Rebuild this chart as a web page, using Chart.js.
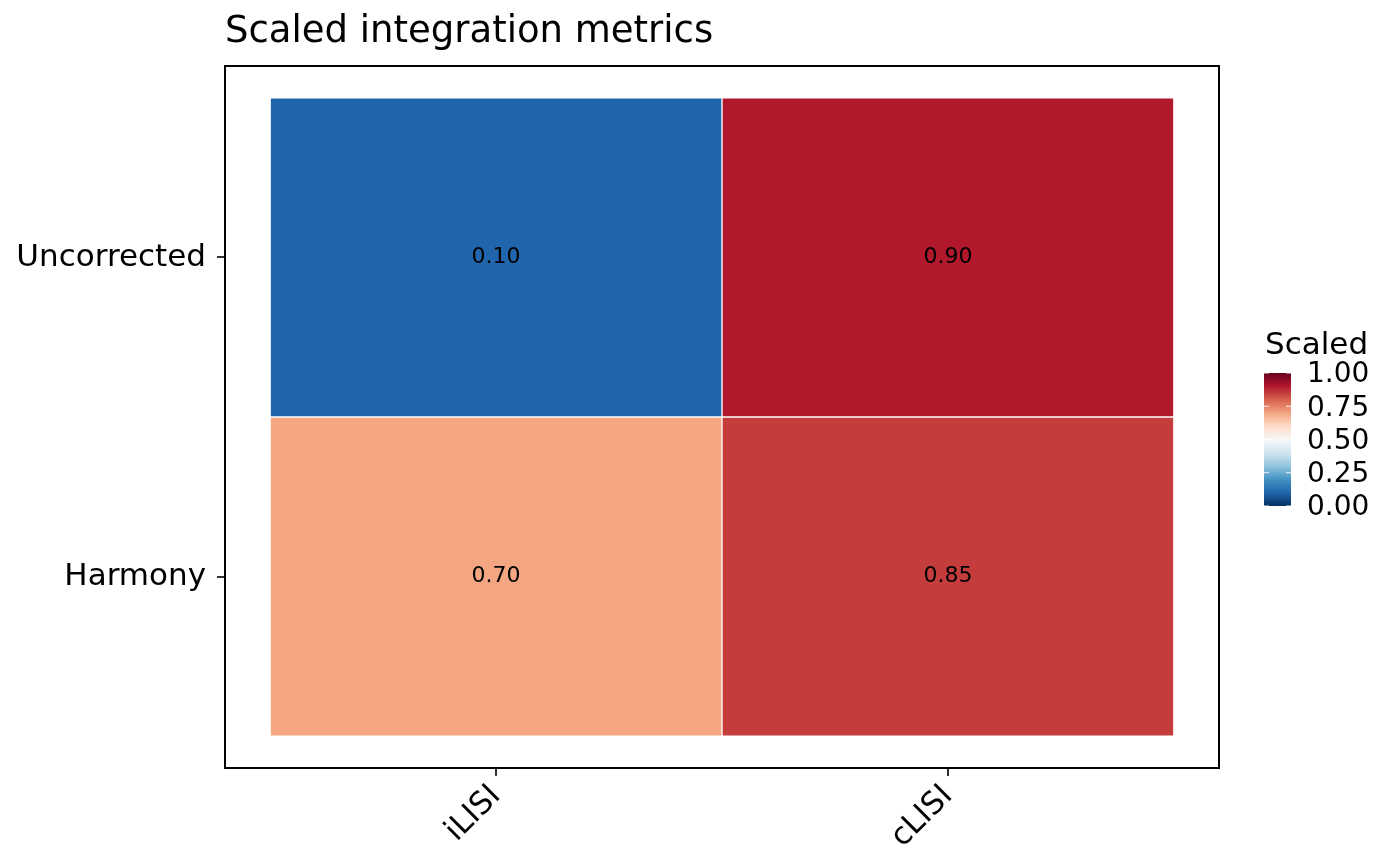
<!DOCTYPE html>
<html>
<head>
<meta charset="utf-8">
<style>
  html, body { margin: 0; padding: 0; background: #fff; }
  #wrap { width: 1400px; height: 866px; }
</style>
<script src="https://cdn.jsdelivr.net/npm/chart.js@4/dist/chart.umd.min.js"></script>
</head>
<body>
<div id="wrap"><canvas id="c" width="1400" height="866"></canvas></div>
<script>
// ---- data ----
const methods = ['Harmony', 'Uncorrected'];          // y positions 1, 2 (bottom to top)
const metrics = ['iLISI', 'cLISI'];                  // x positions 1, 2
const harmonyValues = [0.70, 0.85];
const uncorrectedValues = [0.10, 0.90];
const legendTicks = [0.00, 0.25, 0.50, 0.75, 1.00];
const chartTitle = 'Scaled integration metrics';
const legendTitle = 'Scaled';

// ---- colour scale (RdBu, reversed) ----
const palette = ['#053061','#2166AC','#4393C3','#92C5DE','#D1E5F0','#F7F7F7','#FDDBC7','#F4A582','#D6604D','#B2182B','#67001F'];
function hexToRgb(h) { h = h.replace('#',''); return [parseInt(h.substr(0,2),16), parseInt(h.substr(2,2),16), parseInt(h.substr(4,2),16)]; }
function colorFor(v) {
  const t = Math.max(0, Math.min(1, v)) * (palette.length - 1);
  const i = Math.min(Math.floor(t), palette.length - 2);
  const f = t - i;
  const a = hexToRgb(palette[i]), b = hexToRgb(palette[i+1]);
  const c = a.map((x, k) => Math.round(x + (b[k] - x) * f));
  return 'rgb(' + c.join(',') + ')';
}

const FONT = "'DejaVu Sans', sans-serif";

function rowDataset(label, values, yIdx) {
  return {
    label: label,
    data: values.map((v, i) => ({ x: i + 1, y: [yIdx - 0.5, yIdx + 0.5], v: v })),
    backgroundColor: values.map(colorFor),
    borderColor: '#ffffff',
    borderWidth: 1,
    borderSkipped: false,
    grouped: false,
    barPercentage: 1,
    categoryPercentage: 1
  };
}

const cellLabels = {
  id: 'cellLabels',
  afterDatasetsDraw(chart) {
    const ctx = chart.ctx;
    ctx.save();
    ctx.font = '22px ' + FONT;
    ctx.fillStyle = '#000';
    ctx.textAlign = 'center';
    ctx.textBaseline = 'middle';
    chart.data.datasets.forEach((ds, di) => {
      const meta = chart.getDatasetMeta(di);
      meta.data.forEach((el, i) => {
        const cy = (el.y + el.base) / 2;
        ctx.fillText(ds.data[i].v.toFixed(2), el.x, cy);
      });
    });
    ctx.restore();
  }
};

const panelAndLegend = {
  id: 'panelAndLegend',
  afterDraw(chart) {
    const ctx = chart.ctx;
    const a = chart.chartArea;
    ctx.save();
    // panel border
    ctx.strokeStyle = '#000';
    ctx.lineWidth = 2;
    ctx.strokeRect(a.left, a.top, a.right - a.left, a.bottom - a.top);
    // title
    ctx.fillStyle = '#000';
    ctx.font = '37px ' + FONT;
    ctx.textAlign = 'left';
    ctx.textBaseline = 'alphabetic';
    ctx.fillText(chartTitle, a.left, 42);
    // legend
    const lx = 1264, lw = 27, ltop = 373, lbot = 506;
    ctx.font = '31px ' + FONT;
    ctx.fillText(legendTitle, 1265, 354);
    const g = ctx.createLinearGradient(0, lbot, 0, ltop);
    for (let k = 0; k <= 50; k++) g.addColorStop(k / 50, colorFor(k / 50));
    ctx.fillStyle = g;
    ctx.fillRect(lx, ltop, lw, lbot - ltop);
    ctx.font = '28px ' + FONT;
    ctx.textBaseline = 'middle';
    legendTicks.forEach(t => {
      const y = lbot - t * (lbot - ltop);
      ctx.strokeStyle = 'rgba(255,255,255,0.9)';
      ctx.lineWidth = 1;
      ctx.beginPath();
      ctx.moveTo(lx, y); ctx.lineTo(lx + 5, y);
      ctx.moveTo(lx + lw - 5, y); ctx.lineTo(lx + lw, y);
      ctx.stroke();
      ctx.fillStyle = '#000';
      ctx.fillText(t.toFixed(2), 1307, y + 2);
    });
    ctx.restore();
  }
};

new Chart(document.getElementById('c'), {
  type: 'bar',
  data: {
    datasets: [
      rowDataset('Uncorrected', uncorrectedValues, 2),
      rowDataset('Harmony', harmonyValues, 1)
    ]
  },
  options: {
    responsive: false,
    animation: false,
    devicePixelRatio: 1,
    layout: { padding: { top: 66, right: 181, bottom: 0, left: 0 } },
    plugins: { legend: { display: false }, tooltip: { enabled: false }, title: { display: false } },
    scales: {
      x: {
        type: 'linear',
        min: 0.4, max: 2.6,
        offset: false,
        afterBuildTicks(s) { s.ticks = metrics.map((m, i) => ({ value: i + 1 })); },
        afterFit(s) { s.height = 98; },
        ticks: {
          callback: (v) => metrics[Math.round(v) - 1] || '',
          color: '#000',
          font: { family: FONT, size: 31 },
          maxRotation: 45, minRotation: 45,
          padding: 2,
          autoSkip: false
        },
        grid: { drawOnChartArea: false, drawTicks: true, tickLength: 8, color: '#333', offset: false, lineWidth: 2 },
        border: { display: false }
      },
      y: {
        type: 'linear',
        min: 0.4, max: 2.6,
        afterBuildTicks(s) { s.ticks = methods.map((m, i) => ({ value: i + 1 })); },
        afterFit(s) { s.width = 225; },
        ticks: {
          callback: (v) => methods[Math.round(v) - 1] || '',
          color: '#000',
          font: { family: FONT, size: 31 },
          padding: 11,
          autoSkip: false
        },
        grid: { drawOnChartArea: false, drawTicks: true, tickLength: 8, color: '#333', lineWidth: 2 },
        border: { display: false }
      }
    }
  },
  plugins: [cellLabels, panelAndLegend]
});
</script>
</body>
</html>
